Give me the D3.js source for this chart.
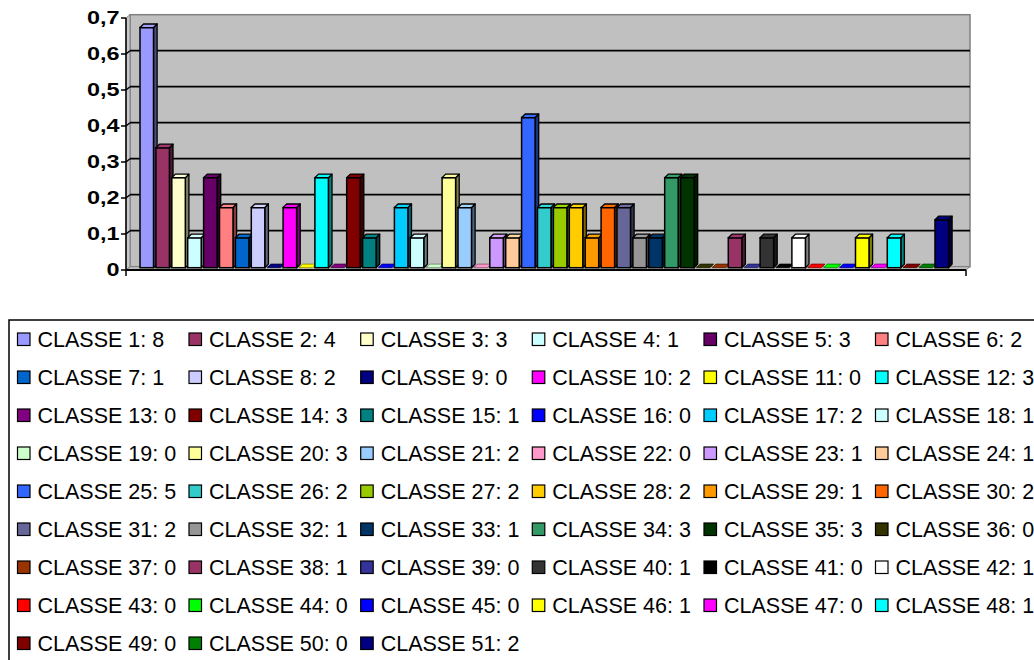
<!DOCTYPE html>
<html>
<head>
<meta charset="utf-8">
<script src="https://cdn.jsdelivr.net/npm/d3@7"></script>
<style>
  html, body { margin: 0; padding: 0; background: #ffffff; }
  svg { display: block; }
</style>
</head>
<body>
<svg id="chart" width="1034" height="660"></svg>
<script>
// Class names, legend counts and plotted proportions (one bar per class)
const classes = d3.range(1, 52).map(i => "CLASSE " + i);
const counts = [8,4,3,1,3,2,1,2,0,2,0,3,0,3,1,0,2,1,0,3,2,0,1,1,5,2,2,2,1,2,
                2,1,1,3,3,0,0,1,0,1,0,1,0,0,0,1,0,1,0,0,2];
const values = [0.667,0.333,0.25,0.083,0.25,0.167,0.083,0.167,0,0.167,0,0.25,0,0.25,0.083,
                0,0.167,0.083,0,0.25,0.167,0,0.083,0.083,0.417,0.167,0.167,0.167,0.083,0.167,
                0.167,0.083,0.083,0.25,0.25,0,0,0.083,0,0.083,0,0.083,0,0,0,0.083,0,0.083,0,0,0.133];
const colors = ["#9999FF","#993366","#FFFFCC","#CCFFFF","#660066","#FF8080","#0066CC","#CCCCFF",
                "#000080","#FF00FF","#FFFF00","#00FFFF","#800080","#800000","#008080","#0000FF",
                "#00CCFF","#CCFFFF","#CCFFCC","#FFFF99","#99CCFF","#FF99CC","#CC99FF","#FFCC99",
                "#3366FF","#33CCCC","#99CC00","#FFCC00","#FF9900","#FF6600","#666699","#969696",
                "#003366","#339966","#003300","#333300","#993300","#993366","#333399","#333333",
                "#000000","#FFFFFF","#FF0000","#00FF00","#0000FF","#FFFF00","#FF00FF","#00FFFF",
                "#800000","#008000","#000080"];
const yTicks = [0, 0.1, 0.2, 0.3, 0.4, 0.5, 0.6, 0.7];
const yTickLabels = ["0", "0,1", "0,2", "0,3", "0,4", "0,5", "0,6", "0,7"];

const svg = d3.select("#chart");

// Geometry of the 3D box
const frontLeft = 126, frontRight = 966, frontBase = 270;
const depthX = 4, depthY = 3.3;

const y = d3.scaleLinear().domain([0, 0.7]).range([frontBase, frontBase - 252]);
const yBack = v => y(v) - depthY;

const x = d3.scaleBand().domain(classes).range([140, 948.5]).paddingInner(0.15).paddingOuter(0);

const plot = svg.append("g");

// Back wall
plot.append("rect")
  .attr("x", frontLeft + depthX).attr("y", yBack(0.7))
  .attr("width", frontRight - frontLeft).attr("height", y(0) - y(0.7))
  .attr("fill", "#c0c0c0").attr("stroke", "#808080").attr("stroke-width", 1.5);

// Side wall
plot.append("polygon")
  .attr("points", [[frontLeft, y(0.7)], [frontLeft + depthX, yBack(0.7)],
                   [frontLeft + depthX, yBack(0)], [frontLeft, y(0)]].join(" "))
  .attr("fill", "#c8c8c8").attr("stroke", "#808080").attr("stroke-width", 1);

// Floor
plot.append("polygon")
  .attr("points", [[frontLeft, y(0)], [frontLeft + depthX, yBack(0)],
                   [frontRight + depthX, yBack(0)], [frontRight, y(0)]].join(" "))
  .attr("fill", "#c0c0c0").attr("stroke", "#808080").attr("stroke-width", 1);

// Gridlines on the back wall and the side wall
yTicks.filter(v => v > 0 && v < 0.7).forEach(v => {
  plot.append("line")
    .attr("x1", frontLeft + depthX).attr("x2", frontRight + depthX)
    .attr("y1", yBack(v)).attr("y2", yBack(v))
    .attr("stroke", "#000").attr("stroke-width", 1.8);
  plot.append("line")
    .attr("x1", frontLeft).attr("x2", frontLeft + depthX)
    .attr("y1", y(v)).attr("y2", yBack(v))
    .attr("stroke", "#000").attr("stroke-width", 1.4);
});

// Bars: front face, top face and right side face
const barBase = frontBase - 2.3;
const bd = 3.6;
const yb = v => barBase - (y(0) - y(v));
const bars = plot.append("g").selectAll("g").data(classes).join("g");

bars.each(function(c, i) {
  const g = d3.select(this);
  const v = values[i];
  const x0 = x(c), w = x.bandwidth();
  const top = yb(v);
  const col = d3.rgb(colors[i]);
  const side = d3.rgb(col.r * 0.5, col.g * 0.5, col.b * 0.5);
  const outline = "#000";
  if (v > 0) {
    g.append("polygon")
      .attr("points", [[x0 + w, top], [x0 + w + bd, top - bd], [x0 + w + bd, barBase - bd], [x0 + w, barBase]].join(" "))
      .attr("fill", side).attr("stroke", outline).attr("stroke-width", 1.3).attr("stroke-linejoin", "round");
    g.append("rect")
      .attr("x", x0).attr("y", top).attr("width", w).attr("height", barBase - top)
      .attr("fill", col).attr("stroke", outline).attr("stroke-width", 1.5);
  }
  g.append("polygon")
    .attr("points", [[x0, top], [x0 + bd, top - bd], [x0 + w + bd, top - bd], [x0 + w, top]].join(" "))
    .attr("fill", v > 0 ? col.brighter(0.15) : col)
    .attr("stroke", v > 0 ? outline : side).attr("stroke-width", v > 0 ? 1.3 : 0.8)
    .attr("stroke-linejoin", "round");
});

// Value axis
const axis = svg.append("g");
axis.append("line")
  .attr("x1", frontLeft).attr("x2", frontLeft)
  .attr("y1", y(0.7)).attr("y2", y(0) + 6)
  .attr("stroke", "#000").attr("stroke-width", 1.5);
axis.append("line")
  .attr("x1", frontLeft).attr("x2", frontRight)
  .attr("y1", y(0)).attr("y2", y(0))
  .attr("stroke", "#000").attr("stroke-width", 1.8);
axis.append("line")
  .attr("x1", frontRight).attr("x2", frontRight)
  .attr("y1", y(0)).attr("y2", y(0) + 6)
  .attr("stroke", "#000").attr("stroke-width", 1.5);

yTicks.forEach((v, i) => {
  axis.append("line")
    .attr("x1", frontLeft - 5).attr("x2", frontLeft)
    .attr("y1", y(v)).attr("y2", y(v))
    .attr("stroke", "#000").attr("stroke-width", 1.5);
  axis.append("text")
    .attr("transform", `translate(119.5, ${y(v) + 6.3}) scale(1.3, 1)`)
    .attr("text-anchor", "end")
    .attr("font-family", "Liberation Sans, Arial, sans-serif")
    .attr("font-weight", "bold")
    .attr("font-size", 18)
    .attr("fill", "#000")
    .text(yTickLabels[i]);
});

// Legend
const legend = svg.append("g");
legend.append("rect")
  .attr("x", 9).attr("y", 320).attr("width", 1100).attr("height", 400)
  .attr("fill", "#fff").attr("stroke", "#000").attr("stroke-width", 1.5);

const colX = [17.5, 189, 360.7, 532.3, 704, 875.5];
const rowY0 = 339.3, rowStep = 38;
classes.forEach((c, i) => {
  const col = i % 6, row = Math.floor(i / 6);
  const cx = colX[col], cy = rowY0 + row * rowStep;
  const item = legend.append("g").attr("transform", `translate(${cx}, ${cy})`);
  item.append("rect")
    .attr("x", 0).attr("y", -6.3).attr("width", 12.5).attr("height", 12.5)
    .attr("fill", colors[i]).attr("stroke", "#000").attr("stroke-width", 1.2);
  item.append("text")
    .attr("x", 20).attr("y", 7.6)
    .attr("font-family", "Liberation Sans, Arial, sans-serif")
    .attr("font-size", 21.5)
    .attr("fill", "#000")
    .text(c + ": " + counts[i]);
});
</script>
</body>
</html>
